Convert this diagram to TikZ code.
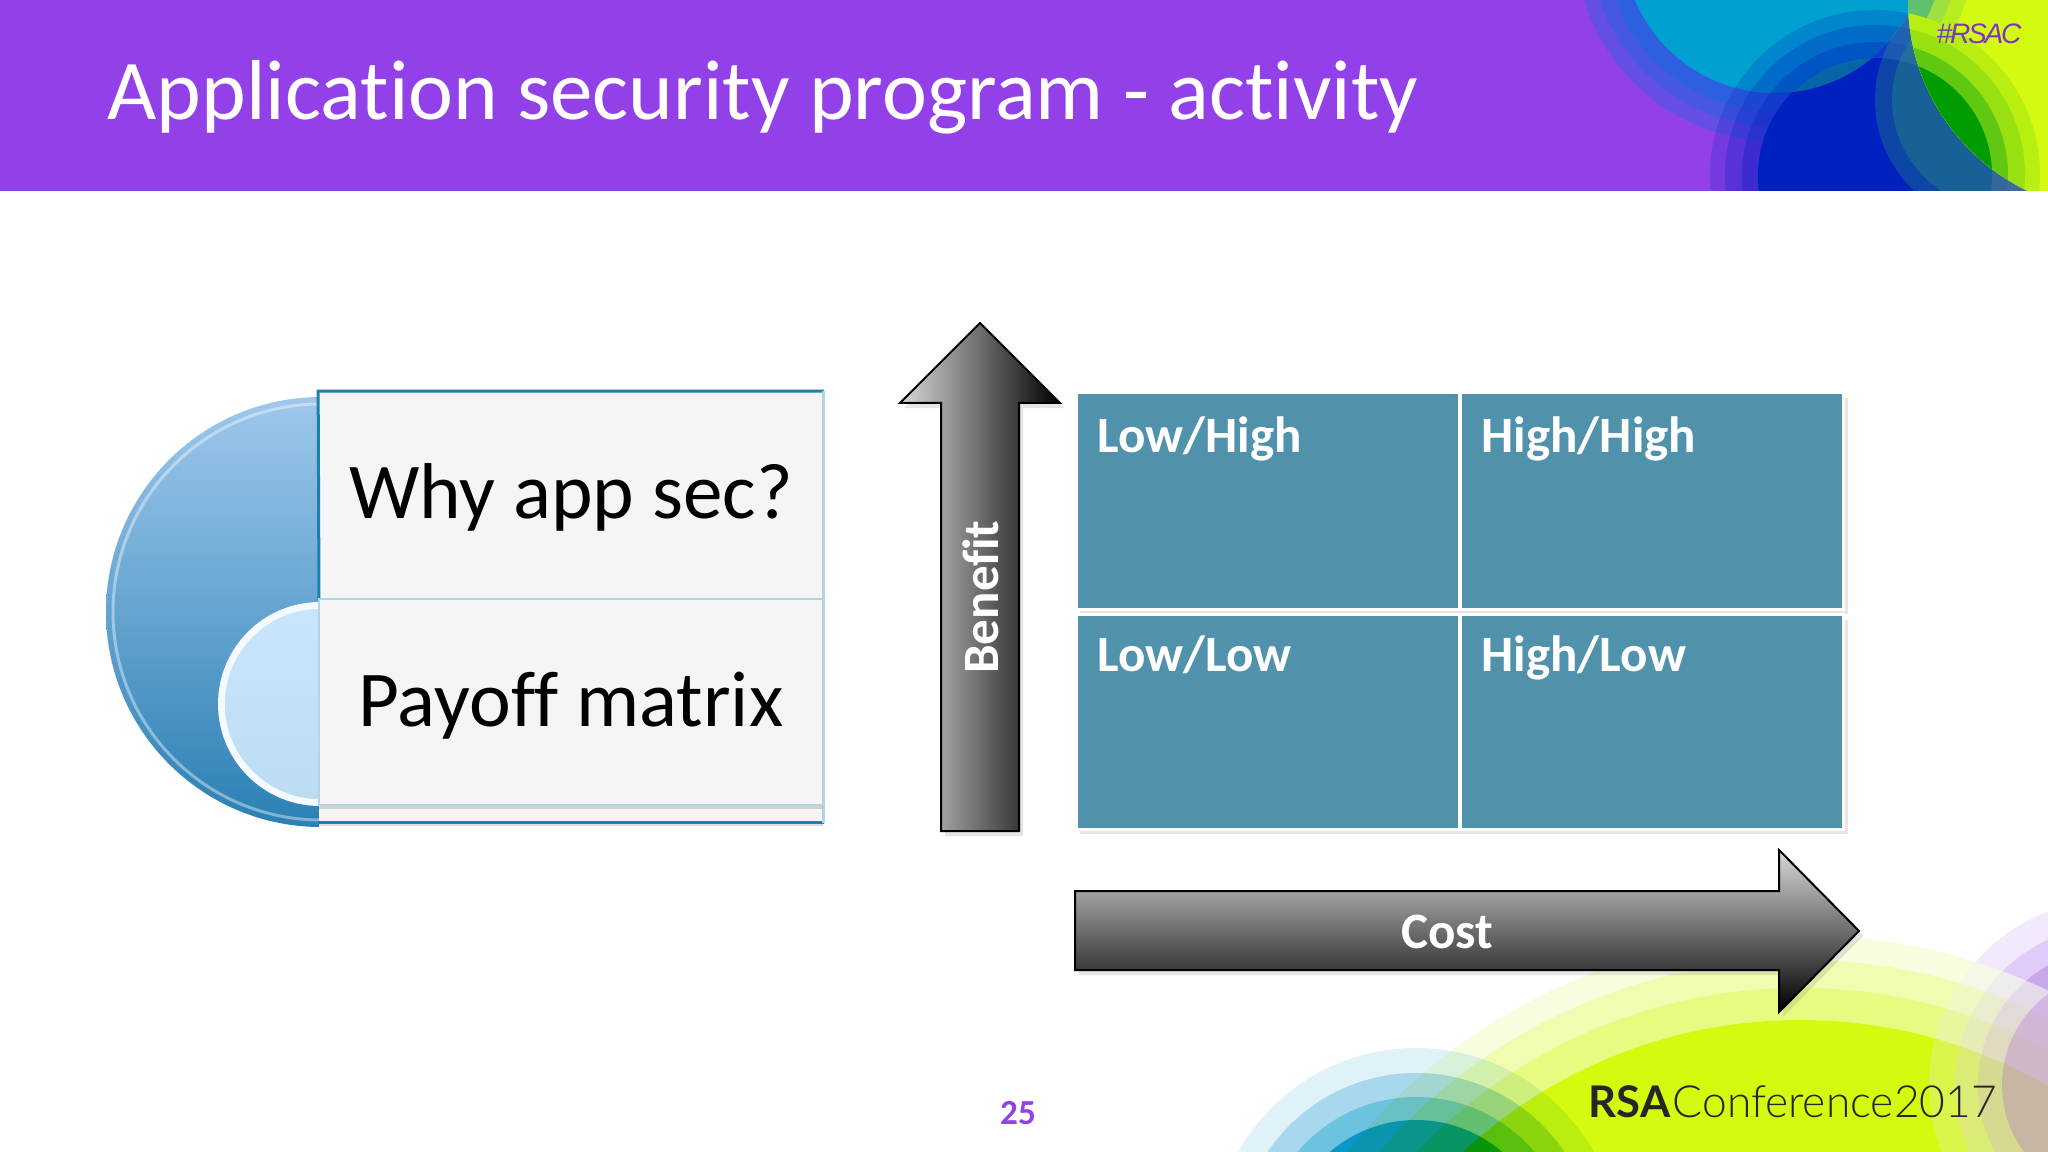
\documentclass[tikz,border=0pt]{standalone}
\usepackage{fontspec}
\setmainfont[Ligatures=NoCommon]{Carlito}
\newfontfamily\hashfont[LetterSpace=-8]{Liberation Sans}
\newfontfamily\confont{Lato Light}
\newfontfamily\rsafont{Lato}
\usetikzlibrary{positioning,shadows}
\definecolor{headpurple}{HTML}{9240E8}
\definecolor{cellteal}{HTML}{5091AC}
\definecolor{boxgrey}{HTML}{F4F5F4}
\definecolor{boxline}{HTML}{1E7FA8}
\definecolor{boxpale}{HTML}{B5D3E6}
\definecolor{limeyellow}{HTML}{D4FB0F}
\definecolor{skycyan}{HTML}{00A0D0}
\definecolor{deepblue}{HTML}{0020C0}
\definecolor{lensblue}{HTML}{0565A5}
\definecolor{coregreen}{HTML}{009C00}
\definecolor{bandteal}{HTML}{30A070}
\definecolor{disctop}{HTML}{9FC8EC}
\definecolor{discbottom}{HTML}{2A80B4}
\definecolor{smalltop}{HTML}{C8E6FB}
\definecolor{smallbottom}{HTML}{BCDCF2}
\tikzset{
	celltext/.style={anchor=base west, text=white, font=\fontsize{14.5}{16}\selectfont\bfseries, inner sep=0pt},
	cell/.style={draw=white, line width=0.03cm, fill=cellteal, minimum width=3.83cm, inner sep=0pt},
	boxtext/.style={text=black, font=\fontsize{22.5}{26}\selectfont, inner sep=0pt},
	arrowtext/.style={text=white, font=\fontsize{14.5}{16}\selectfont\bfseries, inner sep=0pt},
	softshadow/.style={drop shadow={opacity=.2, shadow xshift=0.04cm, shadow yshift=-0.05cm}},
}
\begin{document}
\begin{tikzpicture}[x=0.01cm, y=-0.01cm]
	\useasboundingbox (0,0) rectangle (2048,1152);
	\fill[white] (0,0) rectangle (2048,1152);

	\begin{scope}
		\clip (0,0) rectangle (2048,1152);
		\foreach \r/\c in {204/E0F2F8, 179/A8D8EE, 155/6CC3E0, 132/0A97C8} {
			\definecolor{ringcol}{HTML}{\c}
			\fill[ringcol] (1416,1252) circle[radius=\r];
		}
		\begin{scope}[blend mode=multiply]
			\foreach \r/\q/\c in {582/557/F8FDE0, 557/529/F0FCB0, 529/497/E8FB80} {
				\definecolor{ringcol}{HTML}{\c}
				\fill[ringcol, even odd rule] (1800,1517) circle[radius=\r] (1800,1517) circle[radius=\q];
			}
			\fill[limeyellow] (1800,1517) circle[radius=497];
		\end{scope}
		\begin{scope}
			\clip (1800,880) rectangle (2048,1152);
			\foreach \r/\c in {582/F8FDE0, 557/F0FCB0, 529/E8FB80, 497/D4FB0F} {
				\definecolor{ringcol}{HTML}{\c}
				\fill[ringcol] (1800,1517) circle[radius=\r];
			}
			\foreach \r/\c in {186/F2EAFC, 160/E0CCF8, 137/C8A8E8, 113/9C50D8} {
				\definecolor{ringcol}{HTML}{\c}
				\fill[ringcol, opacity=.25] (2115,1085) circle[radius=\r];
			}
			\begin{scope}[even odd rule]
				\clip (1800,880) rectangle (2048,1152) (1800,1517) circle[radius=582];
				\foreach \r/\c in {186/F2EAFC, 160/E0CCF8, 137/C8A8E8, 113/9C50D8} {
					\definecolor{ringcol}{HTML}{\c}
					\fill[ringcol] (2115,1085) circle[radius=\r];
				}
			\end{scope}
		\end{scope}
	\end{scope}

	\begin{scope}
		\clip (0,0) rectangle (2048,191);
		\fill[headpurple] (0,0) rectangle (2048,191);
		\foreach \r/\o in {200/.3, 185/.3, 170/.35} {
			\fill[skycyan!70!blue, opacity=\o] (1775,-59) circle[radius=\r];
		}
		\fill[skycyan] (1775,-59) circle[radius=152];
		\foreach \r/\o in {165/.2, 150/.25, 133/.3} {
			\fill[deepblue, opacity=\o] (1875,175) circle[radius=\r];
		}
		\fill[deepblue] (1875,175) circle[radius=117];
		\begin{scope}
			\clip (1775,-59) circle[radius=152];
			\fill[lensblue] (1875,175) circle[radius=117];
		\end{scope}
		\foreach \r/\o in {125/.3, 108/.3} {
			\fill[bandteal, opacity=\o] (2000,100) circle[radius=\r];
		}
		\begin{scope}
			\clip (2120,0) circle[radius=212];
			\fill[limeyellow] (1900,0) rectangle (2048,191);
			\foreach \r/\c in {200/B8EE20, 185/9DE040, 170/5FC070} {
				\definecolor{ringcol}{HTML}{\c}
				\fill[ringcol] (1775,-59) circle[radius=\r];
			}
			\foreach \r/\c in {165/B8EE10, 150/98E010, 133/60C810} {
				\definecolor{ringcol}{HTML}{\c}
				\fill[ringcol] (1875,175) circle[radius=\r];
			}
			\fill[coregreen] (1875,175) circle[radius=117];
		\end{scope}
	\end{scope}

	\node[anchor=west, text=white, inner sep=0pt, font=\fontsize{24.2}{30}\selectfont] (title) at (107,97) {Application security program - activity};
	\node[text=headpurple!85!black, inner sep=0pt, font=\fontsize{8}{10}\selectfont\hashfont\itshape] (hashtag) at (1979,34) {\#RSAC};

	\begin{scope}
		\clip (0,300) rectangle (319,900);
		\shade[top color=disctop, bottom color=discbottom] (321,612) circle[radius=215];
		\draw[white, opacity=.4, line width=0.03cm] (321,612) circle[radius=208];
		\fill[white!80!smalltop] (320,704) circle[radius=102];
		\shade[top color=smalltop, bottom color=smallbottom] (320,704) circle[radius=95];
	\end{scope}

	\node[fill=boxgrey, minimum width=5.04cm, minimum height=4.30cm, inner sep=0pt, drop shadow={opacity=.25, shadow xshift=0cm, shadow yshift=-0.04cm}] (outerbox) at (571,607) {};
	\draw[boxline, line width=0.03cm] (outerbox.north east) -- (outerbox.north west) -- (319,600);
	\draw[boxline, line width=0.03cm] (outerbox.south west) -- (outerbox.south east);
	\draw[boxpale, line width=0.03cm] (outerbox.north east) -- (outerbox.south east);
	\node[draw=boxpale, line width=0.02cm, fill=boxgrey, minimum width=5.04cm, minimum height=2.05cm, inner sep=0pt, drop shadow={opacity=.3, shadow xshift=0cm, shadow yshift=-0.04cm}] (lowerbox) at (571,702) {};
	\node[boxtext] (why) at (571,497) {Why app sec?};
	\node[boxtext] (payoff) at (571,706) {Payoff matrix};

	\shade[left color=black!15, right color=black, draw=black, line width=0.02cm, line join=miter, softshadow]
		(980,323) -- (1060,403) -- (1019,403) -- (1019,831) -- (941,831) -- (941,403) -- (900,403) -- cycle;
	\node[arrowtext, rotate=90] (benefit) at (981,597) {Benefit};

	\shade[top color=black!15, bottom color=black, draw=black, line width=0.02cm, line join=miter, softshadow]
		(1075,891) -- (1779,891) -- (1779,850) -- (1859,931) -- (1779,1012) -- (1779,970) -- (1075,970) -- cycle;
	\node[arrowtext] (cost) at (1447,932) {Cost};

	\node[cell, minimum height=2.16cm, softshadow] (lowhigh) at (1268,501) {};
	\node[cell, minimum height=2.16cm, softshadow] (highhigh) at (1652,501) {};
	\node[cell, minimum height=2.14cm, softshadow] (lowlow) at (1268,722) {};
	\node[cell, minimum height=2.14cm, softshadow] (highlow) at (1652,722) {};
	\node[celltext] (lowhightext) at (1097,453) {Low/High};
	\node[celltext] (highhightext) at (1481,453) {High/High};
	\node[celltext] (lowlowtext) at (1097,672) {Low/Low};
	\node[celltext] (highlowtext) at (1481,672) {High/Low};

	\node[text=headpurple, inner sep=0pt, font=\fontsize{10}{12}\selectfont\bfseries] (pagenum) at (1018,1113) {25};
	\node[anchor=base west, text=black!85, inner sep=0pt, font=\fontsize{12.4}{14}\selectfont\rsafont\bfseries] (rsa) at (1588,1117) {RSA};
	\node[anchor=base west, text=black!85, inner sep=0pt, font=\fontsize{12.6}{14}\selectfont\confont] (conf) at (1672,1117) {Conference2017};
\end{tikzpicture}
\end{document}
